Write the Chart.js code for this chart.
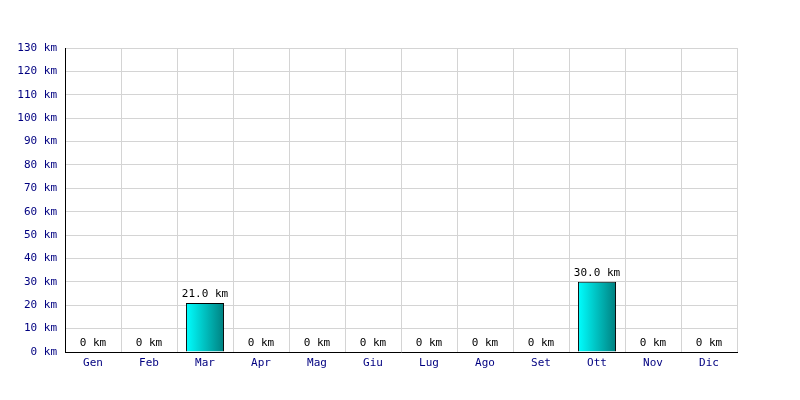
<!DOCTYPE html>
<html>
<head>
<meta charset="utf-8">
<script src="https://cdn.jsdelivr.net/npm/chart.js@4"></script>
<style>
  html, body { margin: 0; padding: 0; background: #fff; }
  #wrap { width: 800px; height: 400px; }
</style>
</head>
<body>
<div id="wrap"><canvas id="myChart" width="800" height="400"></canvas></div>
<script>
// dati del grafico
const mesi = ['Gen', 'Feb', 'Mar', 'Apr', 'Mag', 'Giu', 'Lug', 'Ago', 'Set', 'Ott', 'Nov', 'Dic'];
const km = [0, 0, 21, 0, 0, 0, 0, 0, 0, 30, 0, 0];
const yMax = 130;
const yStep = 10;

const font = { family: "'DejaVu Sans Mono', monospace", size: 11 };

// etichette sopra le barre
const etichette = {
  id: 'etichette',
  afterDatasetsDraw(chart) {
    const c = chart.ctx;
    const meta = chart.getDatasetMeta(0);
    c.save();
    c.font = '11px ' + font.family;
    c.fillStyle = '#000';
    c.textAlign = 'center';
    c.textBaseline = 'bottom';
    meta.data.forEach((bar, i) => {
      const v = km[i];
      const txt = v === 0 ? '0 km' : v.toFixed(1) + ' km';
      c.fillText(txt, bar.x, bar.y - 3);
    });
    c.restore();
  }
};

function gradiente(context) {
  const chart = context.chart;
  const sx = chart.scales.x;
  if (!sx || !chart.chartArea) return '#00cccc';
  const x = sx.getPixelForValue(context.dataIndex);
  const w = sx.width / mesi.length * 0.68;
  const g = chart.ctx.createLinearGradient(x - w / 2, 0, x + w / 2, 0);
  g.addColorStop(0, '#00ffff');
  g.addColorStop(1, '#008080');
  return g;
}

const ctx = document.getElementById('myChart');
const myChart = new Chart(ctx, {
  type: 'bar',
  data: {
    labels: mesi,
    datasets: [{
      data: km,
      backgroundColor: gradiente,
      borderColor: '#000',
      borderWidth: 1,
      borderSkipped: 'bottom',
      categoryPercentage: 1,
      barPercentage: 0.68
    }]
  },
  options: {
    responsive: false,
    animation: false,
    layout: { padding: { top: 48, right: 63, bottom: 0, left: 0 } },
    plugins: {
      legend: { display: false },
      tooltip: { enabled: false }
    },
    scales: {
      x: {
        afterFit: (s) => { s.height = 48; },
        grid: { color: '#d4d4d4', drawTicks: false },
        border: { color: '#000', width: 1 },
        ticks: { color: '#000080', font: font, padding: 5 }
      },
      y: {
        min: 0,
        max: yMax,
        afterFit: (s) => { s.width = 65; },
        grid: { color: '#d4d4d4', drawTicks: false },
        border: { color: '#000', width: 1 },
        ticks: {
          stepSize: yStep,
          color: '#000080',
          font: font,
          padding: 8,
          callback: (v) => v + ' km'
        }
      }
    }
  },
  plugins: [etichette]
});
</script>
</body>
</html>
